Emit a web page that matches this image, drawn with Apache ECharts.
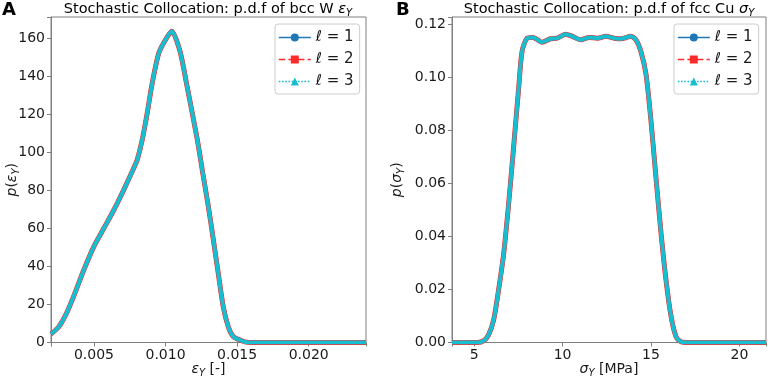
<!DOCTYPE html>
<html>
<head>
<meta charset="utf-8">
<script src="https://cdn.jsdelivr.net/npm/echarts@6/dist/echarts.min.js"></script>
<style>
  html, body { margin: 0; padding: 0; background: #fff; }
  #chart { width: 768px; height: 379px; }
</style>
</head>
<body>
<div id="chart"></div>
<script>
// panel A: p.d.f of bcc W eps_Y
const epsX = [0.0020, 0.00254, 0.00313, 0.00371, 0.00429, 0.00499, 0.00569, 0.00639, 0.00708, 0.00767,
  0.00802, 0.00837, 0.00872, 0.00907, 0.00953, 0.0100, 0.01043, 0.01101, 0.01148, 0.01222,
  0.01260, 0.01299, 0.01334, 0.01368, 0.01403, 0.01438, 0.01473, 0.0152, 0.01555, 0.0160, 0.0240];
const epsP = [4.5, 8.2, 16.1, 26.7, 38.1, 50.4, 60.0, 69.6, 80.2, 89.8,
  96.0, 106.5, 120.5, 136.3, 152.1, 159.1, 163.5, 153.0, 135.5, 106.5,
  89.0, 71.4, 53.9, 36.4, 18.8, 8.3, 3.1, 1.3, 0.3, 0, 0];

// panel B: p.d.f of fcc Cu sigma_Y
const sigX = [3.75, 5.2, 5.53, 5.81, 6.10, 6.38, 6.67, 6.95, 7.23, 7.52, 7.71, 7.99, 8.33, 8.84,
  9.32, 9.70, 10.17, 10.55, 11.02, 11.50, 11.97, 12.44, 12.92, 13.30, 13.86, 14.15, 14.43,
  14.72, 15.00, 15.28, 15.57, 15.85, 16.14, 16.42, 16.70, 17.1, 21.5];
const sigP = [0, 0, 0.0006, 0.0028, 0.0084, 0.0197, 0.0334, 0.0522, 0.0735, 0.0961, 0.1098, 0.1148, 0.1151, 0.1133,
  0.1146, 0.1148, 0.1163, 0.1155, 0.1142, 0.1151, 0.1148, 0.1155, 0.1148, 0.1146, 0.1155, 0.1142, 0.1098,
  0.1011, 0.0835, 0.0622, 0.0410, 0.0234, 0.0096, 0.0021, 0.0003, 0, 0];

const levels = ['ℓ = 1', 'ℓ = 2', 'ℓ = 3'];
const colors = ['#1f77b4', '#ff2a2a', '#17becf'];
const symbols = ['circle', 'rect', 'triangle'];
const widths = [4, 5, 4];
const dashes = ['solid', 'dashed', 'dotted'];

const FONT = 'DejaVu Sans';
const INK = '#1a1a1a';
const GRAY = '#808080';

function mathRich(size) {
  return {
    n: { fontSize: size, fontFamily: FONT, color: INK },
    i: { fontSize: size, fontFamily: FONT, fontStyle: 'italic', color: INK },
    s: { fontSize: Math.round(size * 0.7), fontFamily: FONT, fontStyle: 'italic', color: INK,
         padding: [Math.round(size * 0.55), 0, 0, 0] }
  };
}

const pairs = (xs, ys) => xs.map((x, k) => [x, ys[k]]);
const onStep = (v, step) => Math.abs(v / step - Math.round(v / step)) < 1e-6;

function xAxisOf(grid, min, max, step, digits, name) {
  return {
    type: 'value', gridIndex: grid, min: min, max: max, minInterval: step, maxInterval: step,
    axisLine: { show: true, lineStyle: { color: GRAY, width: 1 } },
    axisTick: { show: true, length: 4, lineStyle: { color: GRAY } },
    splitLine: { show: false },
    axisLabel: { fontSize: 14, fontFamily: FONT, color: INK, margin: 6,
      formatter: v => onStep(v, step) ? v.toFixed(digits) : '' },
    name: name, nameLocation: 'middle', nameGap: 18, nameMoveOverlap: false,
    nameTextStyle: { rich: mathRich(14) }
  };
}
function yAxisOf(grid, max, step, digits, name, gap) {
  return {
    type: 'value', gridIndex: grid, min: 0, max: max, interval: step,
    axisLine: { show: true, lineStyle: { color: GRAY, width: 1 } },
    axisTick: { show: true, length: 4, lineStyle: { color: GRAY } },
    splitLine: { show: false },
    axisLabel: { fontSize: 14, fontFamily: FONT, color: INK, margin: 6,
      formatter: v => onStep(v, step) ? v.toFixed(digits) : '' },
    name: name, nameLocation: 'middle', nameRotate: 90, nameGap: gap, nameMoveOverlap: false,
    nameTextStyle: { rich: mathRich(14) }
  };
}

const series = [];
[[epsX, epsP], [sigX, sigP]].forEach((d, g) => {
  levels.forEach((lv, k) => {
    series.push({
      type: 'line', name: lv, xAxisIndex: g, yAxisIndex: g,
      data: pairs(d[0], d[1]),
      showSymbol: false, symbol: symbols[k], symbolSize: 7,
      smooth: 0.25,
      lineStyle: { color: colors[k], width: widths[k] },
      itemStyle: { color: colors[k] },
      z: 2 + k
    });
  });
});

function legendAt(left) {
  return {
    left: left, top: 24, orient: 'vertical',
    itemWidth: 32, itemHeight: 10, itemGap: 7,
    padding: [6, 6, 5, 3],
    borderColor: '#cccccc', borderWidth: 1, borderRadius: 3,
    backgroundColor: 'rgba(255,255,255,0.8)',
    selectedMode: false,
    data: levels.map((lv, k) => ({ name: lv, lineStyle: { type: dashes[k], width: 1.6, color: colors[k] } })),
    formatter: name => '{i|ℓ}{n| = ' + name.slice(-1) + '}',
    textStyle: { rich: mathRich(15) }
  };
}

const chart = echarts.init(document.getElementById('chart'));
chart.setOption({
  animation: false,
  backgroundColor: '#fff',
  grid: [
    { left: 51, top: 17, width: 315, height: 325.5, show: true, borderColor: GRAY, borderWidth: 1,
      outerBoundsMode: 'none', containLabel: false },
    { left: 452, top: 17, width: 314, height: 325.5, show: true, borderColor: GRAY, borderWidth: 1,
      outerBoundsMode: 'none', containLabel: false }
  ],
  xAxis: [
    xAxisOf(0, 0.002, 0.024, 0.005, 3, '{i|ε}{s|Y}{n| [-]}'),
    xAxisOf(1, 3.75, 21.5, 5, 0, '{i|σ}{s|Y}{n| [MPa]}')
  ],
  yAxis: [
    yAxisOf(0, 171, 20, 0, '{i|p}{n|(}{i|ε}{s|Y}{n|)}', 30),
    yAxisOf(1, 0.1228, 0.02, 2, '{i|p}{n|(}{i|σ}{s|Y}{n|)}', 46)
  ],
  legend: [legendAt(275), legendAt(674)],
  graphic: [
    { type: 'text', x: 208, y: 9, style: { text: '{n|Stochastic Collocation: p.d.f of bcc W }{i|ε}{s|Y}',
      rich: mathRich(14.5), align: 'center', verticalAlign: 'middle' } },
    { type: 'text', x: 609, y: 9, style: { text: '{n|Stochastic Collocation: p.d.f of fcc Cu }{i|σ}{s|Y}',
      rich: mathRich(14.5), align: 'center', verticalAlign: 'middle' } },
    { type: 'text', x: 2, y: 10, style: { text: 'A', fontFamily: FONT, fontWeight: 'bold', fontSize: 18,
      fill: '#000', align: 'left', verticalAlign: 'middle' } },
    { type: 'text', x: 396, y: 10, style: { text: 'B', fontFamily: FONT, fontWeight: 'bold', fontSize: 18,
      fill: '#000', align: 'left', verticalAlign: 'middle' } }
  ],
  series: series
});
</script>
</body>
</html>
